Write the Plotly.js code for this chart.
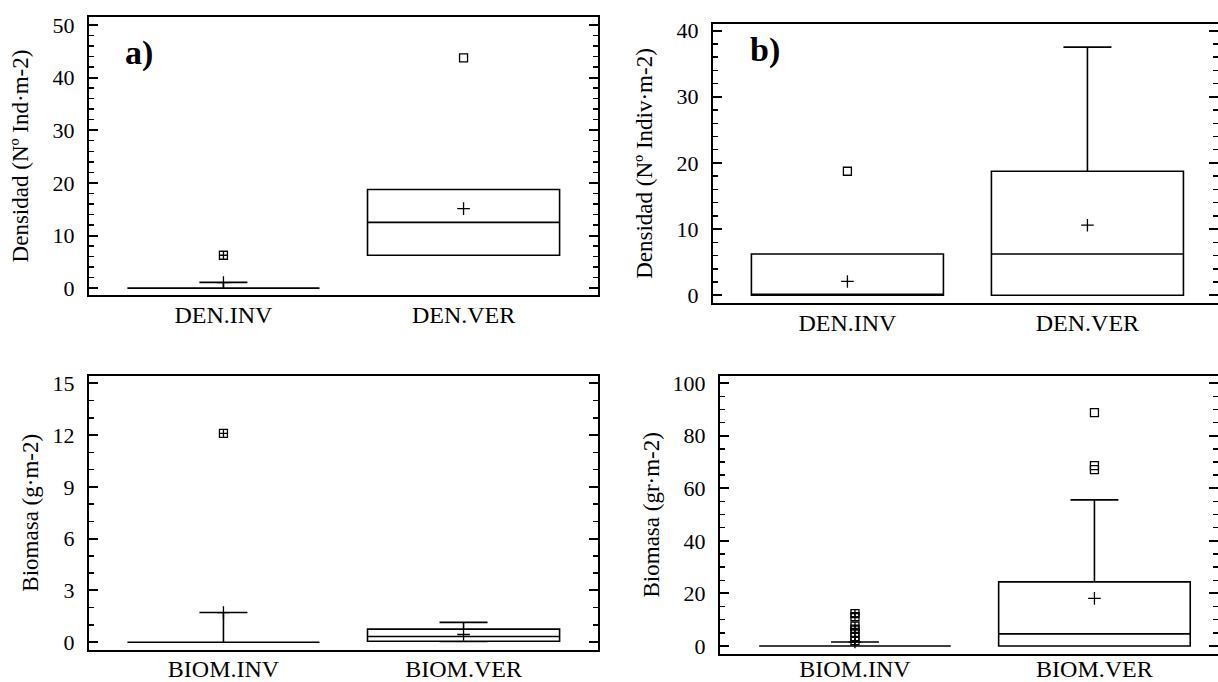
<!DOCTYPE html>
<html>
<head>
<meta charset="utf-8">
<script src="https://cdn.plot.ly/plotly-3.0.1.min.js"></script>
<style>
html,body{margin:0;padding:0;background:#fff;overflow:hidden;}
#chart{width:1218px;height:682px;}
</style>
</head>
<body>
<div id="chart"></div>
<script>
// ---------- data ----------
const catsDen = ['DEN.INV', 'DEN.VER'];
const catsBiom = ['BIOM.INV', 'BIOM.VER'];

// panel a) Densidad (Nº Ind·m-2)
const aQ1 = [0, 6.25];
const aMedian = [0, 12.5];
const aQ3 = [0, 18.75];
const aLower = [0, 6.25];
const aUpper = [1.1, 18.75];
const aMean = [1.05, 15.1];
const aFarCats = ['DEN.INV'];
const aFarVals = [6.25];
const aOutCats = ['DEN.VER'];
const aOutVals = [43.75];

// panel b) Densidad (Nº Indiv·m-2)
const bQ1 = [0, 0];
const bMedian = [0, 6.25];
const bQ3 = [6.25, 18.75];
const bLower = [0, 0];
const bUpper = [6.25, 37.5];
const bMean = [2.1, 10.6];
const bOutCats = ['DEN.INV'];
const bOutVals = [18.75];

// panel c) Biomasa (g·m-2)
const cQ1 = [0, 0.06];
const cMedian = [0, 0.33];
const cQ3 = [0, 0.76];
const cLower = [0, 0.04];
const cUpper = [1.72, 1.15];
const cMean = [1.72, 0.45];
const cFarCats = ['BIOM.INV'];
const cFarVals = [12.1];

// panel d) Biomasa (gr·m-2)
const dQ1 = [0, 0];
const dMedian = [0, 4.6];
const dQ3 = [0, 24.4];
const dLower = [0, 0];
const dUpper = [1.5, 55.6];
const dMean = [1.5, 18.1];
const dFarCats = ['BIOM.INV', 'BIOM.INV', 'BIOM.INV', 'BIOM.INV', 'BIOM.INV', 'BIOM.INV', 'BIOM.INV'];
const dFarVals = [12.3, 11.2, 7.6, 6.4, 5.2, 3.3, 2.0];
const dOutCats = ['BIOM.VER', 'BIOM.VER', 'BIOM.VER'];
const dOutVals = [88.8, 68.6, 67.1];

// ---------- styling helpers ----------
const FONT = 'Liberation Serif, Times New Roman, serif';
const INK = '#000';

function boxTrace(cats, q1, med, q3, lo, hi, xa, ya) {
  return {
    type: 'box', x: cats, q1: q1, median: med, q3: q3,
    lowerfence: lo, upperfence: hi,
    boxpoints: false, width: 0.8, whiskerwidth: 0.25,
    line: {color: INK, width: 1.6}, fillcolor: 'rgba(0,0,0,0)',
    xaxis: xa, yaxis: ya, showlegend: false, hoverinfo: 'skip'
  };
}
function markTrace(cats, vals, symbol, size, xa, ya) {
  return {
    type: 'scatter', mode: 'markers', x: cats, y: vals,
    marker: {symbol: symbol, size: size, color: INK, line: {color: INK, width: 1.3}},
    xaxis: xa, yaxis: ya, showlegend: false, hoverinfo: 'skip'
  };
}

const data = [
  boxTrace(catsDen, aQ1, aMedian, aQ3, aLower, aUpper, 'x', 'y'),
  markTrace(catsDen, aMean, 'cross-thin-open', 9, 'x', 'y'),
  markTrace(aFarCats, aFarVals, 'square-cross-open', 8, 'x', 'y'),
  markTrace(aOutCats, aOutVals, 'square-open', 8, 'x', 'y'),

  boxTrace(catsDen, bQ1, bMedian, bQ3, bLower, bUpper, 'x2', 'y2'),
  markTrace(catsDen, bMean, 'cross-thin-open', 9, 'x2', 'y2'),
  markTrace(bOutCats, bOutVals, 'square-open', 8, 'x2', 'y2'),

  boxTrace(catsBiom, cQ1, cMedian, cQ3, cLower, cUpper, 'x3', 'y3'),
  markTrace(catsBiom, cMean, 'cross-thin-open', 9, 'x3', 'y3'),
  markTrace(cFarCats, cFarVals, 'square-cross-open', 8, 'x3', 'y3'),

  boxTrace(catsBiom, dQ1, dMedian, dQ3, dLower, dUpper, 'x4', 'y4'),
  markTrace(catsBiom, dMean, 'cross-thin-open', 9, 'x4', 'y4'),
  markTrace(dFarCats, dFarVals, 'square-cross-open', 8, 'x4', 'y4'),
  markTrace(dOutCats, dOutVals, 'square-open', 8, 'x4', 'y4')
];

function xAxis(domain, range, anchor, standoff) {
  return {
    domain: domain, range: range, anchor: anchor, type: 'category',
    showline: true, linewidth: 2, linecolor: INK, mirror: true,
    ticks: '', showgrid: false, zeroline: false,
    tickfont: {family: FONT, size: 24, color: INK}, ticklabelstandoff: standoff,
    fixedrange: true
  };
}
function yAxis(domain, range, anchor, dtick, minor, title, standoff) {
  return {
    domain: domain, range: range, anchor: anchor,
    tick0: 0, dtick: dtick, ticks: 'inside', ticklen: 9, tickwidth: 2, tickcolor: INK,
    minor: {dtick: minor, tick0: 0, ticks: 'inside', ticklen: 5, tickwidth: 1.5, tickcolor: INK},
    showline: true, linewidth: 2, linecolor: INK, mirror: 'ticks',
    showgrid: false, zeroline: false,
    tickfont: {family: FONT, size: 22, color: INK}, ticklabelstandoff: 8,
    title: {text: title, font: {family: FONT, size: 23, color: INK}, standoff: standoff},
    fixedrange: true
  };
}

const yDomA = [0.56745, 0.97507], yDomB = [0.55572, 0.96481];
const yDomC = [0.04765, 0.44868], yDomD = [0.04106, 0.44941];

const layout = {
  width: 1218, height: 682,
  margin: {l: 0, r: 0, t: 0, b: 0, pad: 0},
  paper_bgcolor: '#fff', plot_bgcolor: '#fff',
  showlegend: false,
  font: {family: FONT, color: INK},
  xaxis: xAxis([0.07307, 0.49097], [-0.56, 1.56], 'y', -3),
  yaxis: yAxis(yDomA, [-1.3, 51.5], 'x', 10, 2, 'Densidad (Nº Ind·m-2)', 18),
  xaxis2: xAxis([0.58539, 1], [-0.56, 1.544], 'y2', -3),
  yaxis2: yAxis(yDomB, [-1.16, 41.0], 'x2', 10, 2, 'Densidad (Nº Indiv·m-2)', 18),
  xaxis3: xAxis([0.07307, 0.49097], [-0.56, 1.56], 'y3', -3),
  yaxis3: yAxis(yDomC, [-0.42, 15.42], 'x3', 3, 1, 'Biomasa (g·m-2)', 8),
  xaxis4: xAxis([0.59113, 1], [-0.5637, 1.516], 'y4', -8),
  yaxis4: yAxis(yDomD, [-3.04, 102.9], 'x4', 20, 5, 'Biomasa (gr·m-2)', 7),
  annotations: [
    {text: 'a)', xref: 'paper', yref: 'paper', x: 0.1012, y: 0.9222,
     xanchor: 'left', yanchor: 'middle', showarrow: false,
     font: {family: FONT, size: 34, color: INK, weight: 'bold'}},
    {text: 'b)', xref: 'paper', yref: 'paper', x: 0.6140, y: 0.9266,
     xanchor: 'left', yanchor: 'middle', showarrow: false,
     font: {family: FONT, size: 34, color: INK, weight: 'bold'}}
  ]
};

Plotly.newPlot('chart', data, layout, {staticPlot: true, displayModeBar: false});
</script>
</body>
</html>
